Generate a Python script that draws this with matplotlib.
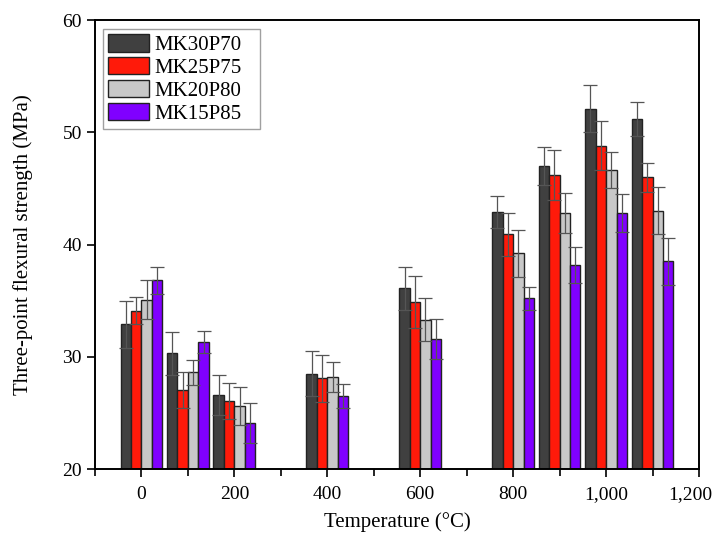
import numpy as np
import matplotlib
matplotlib.use("Agg")
import matplotlib.pyplot as plt
import matplotlib.transforms as mtransforms
from matplotlib.ticker import MultipleLocator, FuncFormatter

plt.rcParams['font.family'] = ['Liberation Serif', 'DejaVu Serif']

temps = [0, 100, 200, 400, 600, 800, 900, 1000, 1100]
labels = ["MK30P70", "MK25P75", "MK20P80", "MK15P85"]
colors = ["#404040", "#ff1a0a", "#c8c8c8", "#8000ff"]

mk30 = [32.9, 30.3, 26.6, 28.5, 36.1, 42.9, 47.0, 52.1, 51.2]
mk25 = [34.1, 27.0, 26.1, 28.1, 34.9, 40.9, 46.2, 48.8, 46.0]
mk20 = [35.1, 28.6, 25.6, 28.2, 33.3, 39.2, 42.8, 46.6, 43.0]
mk15 = [36.8, 31.3, 24.1, 26.5, 31.6, 35.2, 38.2, 42.8, 38.5]

err30 = [2.1, 1.9, 1.8, 2.0, 1.9, 1.4, 1.7, 2.1, 1.5]
err25 = [1.2, 1.6, 1.6, 2.1, 2.3, 1.9, 2.2, 2.2, 1.3]
err20 = [1.7, 1.1, 1.7, 1.3, 1.9, 2.1, 1.8, 1.6, 2.1]
err15 = [1.2, 1.0, 1.8, 1.1, 1.8, 1.0, 1.6, 1.7, 2.1]

series = [mk30, mk25, mk20, mk15]
errors = [err30, err25, err20, err15]

fig = plt.figure(figsize=(7.18, 5.34), dpi=100)
ax = fig.add_axes([0.1323, 0.1217, 0.8412, 0.8408])

width = 22.5
x = np.array(temps, dtype=float)
for i in range(4):
    pos = x + (i - 1.5) * width
    ax.bar(pos, np.array(series[i]) - 20, width=width, bottom=20,
           color=colors[i], edgecolor="#222222", linewidth=1.0,
           label=labels[i], zorder=2)
    ax.errorbar(pos, series[i], yerr=errors[i], fmt="none",
                ecolor="#555555", elinewidth=0.9, capsize=5, capthick=0.9,
                zorder=3)

ax.set_xlim(-100, 1200)
ax.set_ylim(20, 60)
ax.xaxis.set_major_locator(MultipleLocator(200))
ax.xaxis.set_minor_locator(MultipleLocator(100))
ax.yaxis.set_major_locator(MultipleLocator(10))
ax.xaxis.set_major_formatter(FuncFormatter(lambda v, p: f"{int(v):,}"))
ax.tick_params(axis="both", which="major", direction="out", length=6,
               width=1.2, labelsize=14)
ax.tick_params(axis="x", which="major", pad=6)
ax.tick_params(axis="x", which="minor", direction="out", length=5, width=1.2)
for s in ax.spines.values():
    s.set_linewidth(1.4)

ax.set_xlabel("Temperature (°C)", fontsize=15, labelpad=7)
ax.set_ylabel("Three-point flexural strength (MPa)", fontsize=15, labelpad=21)

leg = ax.legend(loc="upper left", bbox_to_anchor=(0.0132, 0.0, 0.26, 0.98),
                mode="expand", fontsize=15,
                frameon=True, fancybox=False, edgecolor="#888888",
                handlelength=1.95, handleheight=0.9, labelspacing=0.1,
                handletextpad=0.25, borderpad=0.25, borderaxespad=0.0)
leg.get_frame().set_linewidth(1.0)

# last x label sits a little left of its tick, as in the original
fig.canvas.draw()
shift = mtransforms.ScaledTranslation(-6 / 72, 0, fig.dpi_scale_trans)
for t in ax.xaxis.get_major_ticks():
    if t.label1.get_text() == "1,200":
        t.label1.set_transform(t.label1.get_transform() + shift)

fig.savefig("out.png", dpi=100)
